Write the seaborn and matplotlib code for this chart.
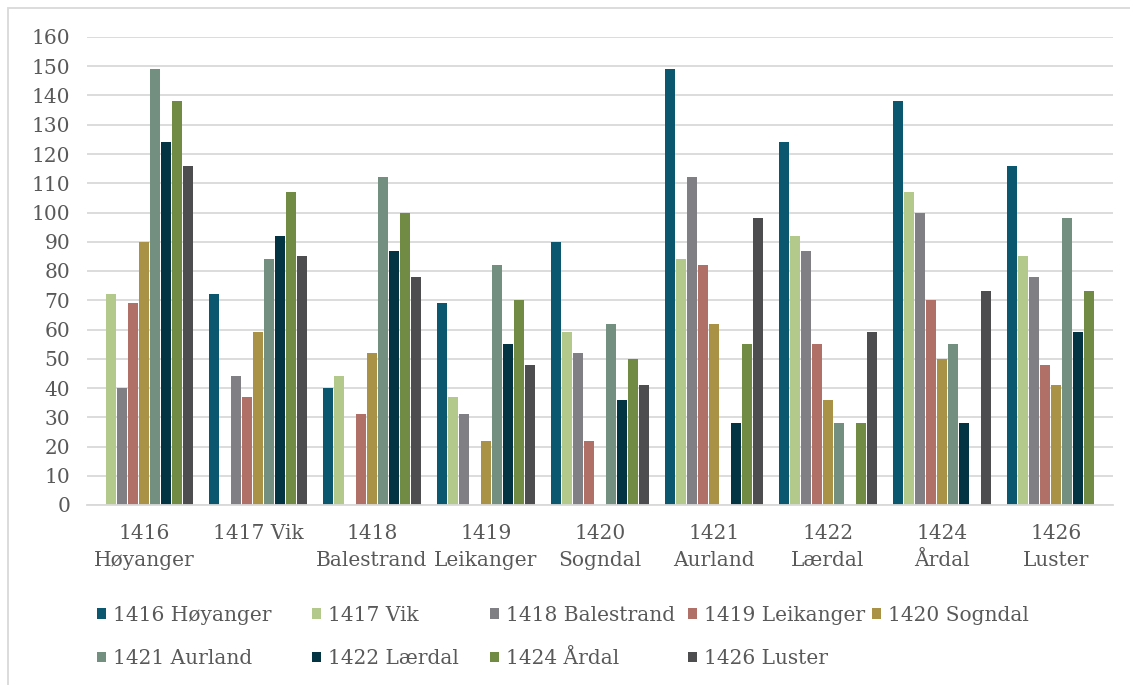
import pandas as pd
import numpy as np
import matplotlib
matplotlib.use('Agg')
import matplotlib.pyplot as plt
from matplotlib.patches import Patch, Rectangle
import seaborn as sns

# categories (x axis) and series (hue)
categories = ['1416 Høyanger', '1417 Vik', '1418 Balestrand', '1419 Leikanger', '1420 Sogndal',
              '1421 Aurland', '1422 Lærdal', '1424 Årdal', '1426 Luster']
tick_labels = ['1416\nHøyanger', '1417 Vik', '1418\nBalestrand', '1419\nLeikanger', '1420\nSogndal',
               '1421\nAurland', '1422\nLærdal', '1424\nÅrdal', '1426\nLuster']

hoyanger   = [0, 72, 40, 69, 90, 149, 124, 138, 116]
vik        = [72, 0, 44, 37, 59, 84, 92, 107, 85]
balestrand = [40, 44, 0, 31, 52, 112, 87, 100, 78]
leikanger  = [69, 37, 31, 0, 22, 82, 55, 70, 48]
sogndal    = [90, 59, 52, 22, 0, 62, 36, 50, 41]
aurland    = [149, 84, 112, 82, 62, 0, 28, 55, 98]
laerdal    = [124, 92, 87, 55, 36, 28, 0, 28, 59]
ardal      = [138, 107, 100, 70, 50, 55, 28, 0, 73]
luster     = [116, 85, 78, 48, 41, 98, 59, 73, 0]

series = categories
series_values = [hoyanger, vik, balestrand, leikanger, sogndal, aurland, laerdal, ardal, luster]
colors = ['#0b5770', '#b3c98b', '#808084', '#b07068', '#a99246',
          '#738f80', '#033444', '#718b45', '#4d4d4f']

rows = []
for s, vals in zip(series, series_values):
    for c, v in zip(categories, vals):
        rows.append({'Kommune': c, 'Serie': s, 'Verdi': v})
df = pd.DataFrame(rows)

sns.set_theme(style='white')
plt.rcParams['font.family'] = ['DejaVu Serif']
text_col = '#595959'
fs = 14.5

fig = plt.figure(figsize=(11.3, 6.85), dpi=100)
ax = fig.add_axes([87 / 1130, 1 - 505 / 685, (1113 - 87) / 1130, (505 - 37) / 685])

sns.barplot(data=df, x='Kommune', y='Verdi', hue='Serie', order=categories,
            hue_order=series, palette=colors, saturation=1, width=0.87, gap=0.12,
            linewidth=0, errorbar=None, legend=False, ax=ax)

ax.set_ylim(0, 160)
ax.set_xlim(-0.5, len(categories) - 0.5)
ax.set_yticks(np.arange(0, 161, 10))
ax.yaxis.grid(True, color='#d9d9d9', linewidth=1.3)
ax.set_axisbelow(True)
for side in ['left', 'right', 'top']:
    ax.spines[side].set_visible(False)
ax.spines['bottom'].set_color('#d9d9d9')
ax.spines['bottom'].set_linewidth(1.3)
ax.set_xlabel('')
ax.set_ylabel('')

ax.set_xticks(range(len(categories)))
ax.set_xticklabels(tick_labels, fontsize=fs, color=text_col, linespacing=1.5)
ax.set_xticks(np.arange(-0.5, len(categories), 1), minor=True)
ax.tick_params(axis='x', which='major', length=0, pad=14)
ax.tick_params(axis='x', which='minor', length=8, width=1.3, color='#d9d9d9', direction='out')
ax.tick_params(axis='y', length=0, pad=12, labelsize=fs, labelcolor=text_col)

# legend: five columns at Excel-like positions
handles = [Patch(facecolor=c, edgecolor='none') for c in colors]
col_x = [97, 312, 490, 688, 872]
for j, x in enumerate(col_x):
    idx = [i for i in (j, j + 5) if i < len(series)]
    leg = fig.legend([handles[i] for i in idx], [series[i] for i in idx],
                     loc='upper left', bbox_to_anchor=(x / 1130, 1 - 606 / 685),
                     bbox_transform=fig.transFigure, frameon=False, fontsize=fs,
                     handlelength=0.45, handleheight=0.45, handletextpad=0.35,
                     labelspacing=1.2, borderpad=0, borderaxespad=0, labelcolor=text_col)

# light frame around the chart
fig.add_artist(Rectangle((8 / 1130, -0.05), 1.1, 1 - 8 / 685 + 0.05, transform=fig.transFigure,
                         fill=False, edgecolor='#d9d9d9', linewidth=1.3))

fig.savefig('out.png', dpi=100)
